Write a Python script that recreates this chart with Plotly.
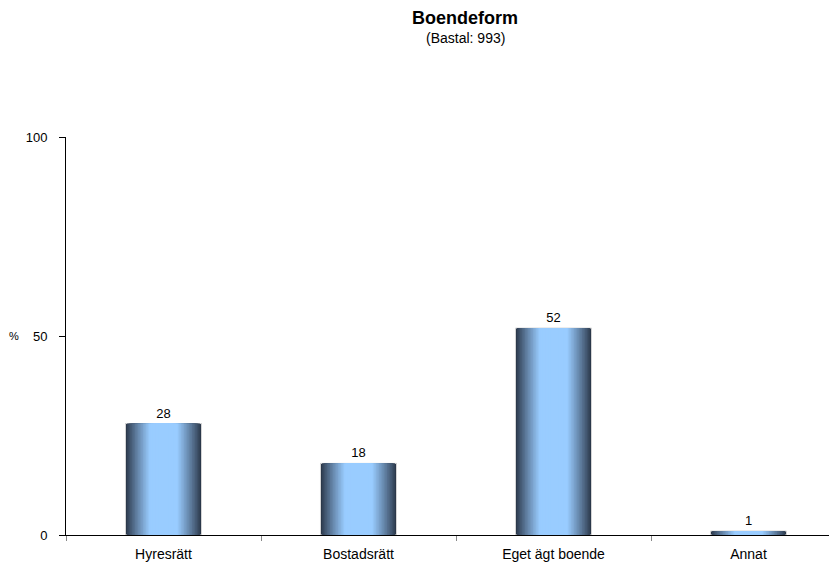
import plotly.graph_objects as go

categories = ["Hyresrätt", "Bostadsrätt", "Eget ägt boende", "Annat"]
values = [28, 18, 52, 1]
title_text = "Boendeform"
subtitle_text = "(Bastal: 993)"

FONT = "Liberation Sans, Arial, Helvetica, sans-serif"
dark = (0x2b, 0x38, 0x4a)
light = (0x99, 0xcc, 0xff)

def mix(t):
    c = [round(dark[i] + (light[i] - dark[i]) * t) for i in range(3)]
    return f"rgb({c[0]},{c[1]},{c[2]})"

fig = go.Figure()
N = 24
full_w = 0.39
for i in range(N):
    frac = i / N
    w = full_w * (1 - frac)
    t = min(1.0, frac / 0.62) ** 0.9
    fig.add_trace(go.Bar(
        x=categories, y=values, width=w,
        marker=dict(color=mix(t),
                    line=dict(width=1 if i == 0 else 0, color="#d6d6d6")),
        text=[str(v) for v in values] if i == 0 else None,
        textposition="outside" if i == 0 else "none",
        textfont=dict(family=FONT, size=13, color="#000"),
        cliponaxis=False,
        showlegend=False, hoverinfo="skip",
    ))

PLOT_W = 771
cx = (457 - 58) / PLOT_W
fig.update_layout(
    barmode="overlay",
    width=829, height=556,
    margin=dict(l=58, r=0, t=129, b=29, autoexpand=False),
    paper_bgcolor="white", plot_bgcolor="white",
    font=dict(family=FONT, size=12, color="#000"),
    annotations=[
        dict(text=f"<b>{title_text}</b>", xref="paper", yref="paper",
             x=cx, y=1, yshift=137 - 18, showarrow=False,
             font=dict(size=18, family=FONT), xanchor="center", yanchor="middle"),
        dict(text=subtitle_text, xref="paper", yref="paper",
             x=cx, y=1, yshift=137 - 38, showarrow=False,
             font=dict(size=14, family=FONT), xanchor="center", yanchor="middle"),
        dict(text="%", xref="paper", yref="y", x=0, xshift=-52, y=50,
             showarrow=False, font=dict(size=11, family=FONT),
             xanchor="center", yanchor="middle"),
    ],
)
fig.update_xaxes(
    type="category", range=[-0.5, -0.5 + PLOT_W / 195],
    showline=True, linecolor="#000", linewidth=1,
    ticks="outside", tickson="boundaries", ticklen=5, tickcolor="#888",
    ticklabelstandoff=6,
    showgrid=False, zeroline=False,
    tickfont=dict(size=14, family=FONT),
)
fig.update_yaxes(
    range=[0, 100], tickvals=[0, 50, 100],
    showline=True, linecolor="#000", linewidth=1,
    ticks="outside", ticklen=6, tickcolor="#000",
    ticklabelstandoff=9,
    showgrid=False, zeroline=False,
    tickfont=dict(size=13, family=FONT),
)

fig.write_html("out.html")
